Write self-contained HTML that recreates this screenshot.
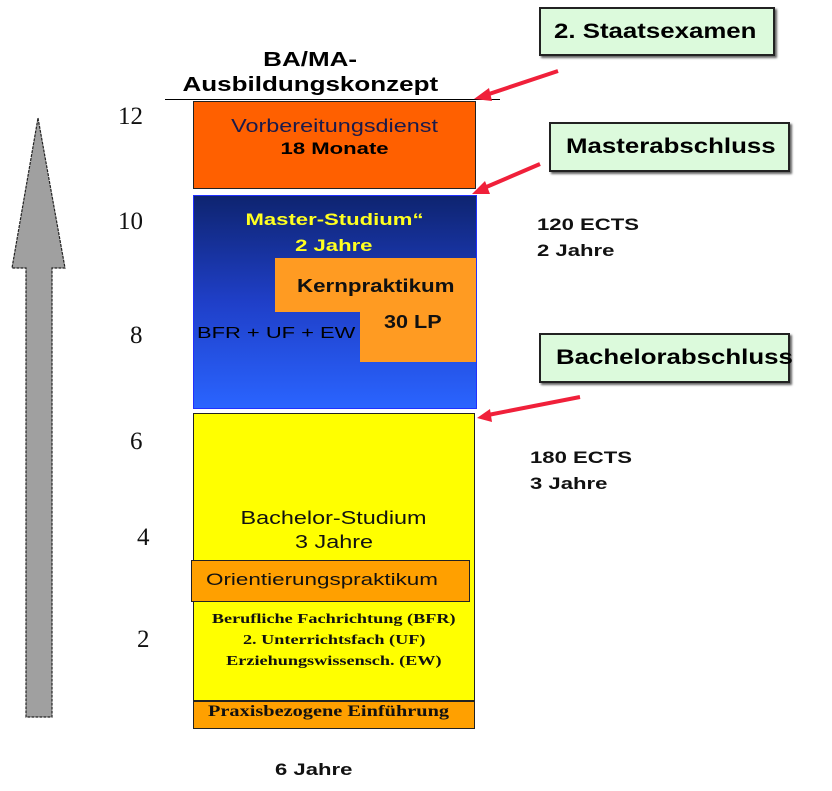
<!DOCTYPE html>
<html><head><meta charset="utf-8"><style>
body{margin:0;width:832px;height:791px;background:#fff;position:relative;overflow:hidden;font-family:"Liberation Sans",Arial,sans-serif}
.a{position:absolute}
.b{font-weight:bold}
.c{text-align:center}
.s{display:inline-block;transform:scaleX(1.3);transform-origin:left center;white-space:nowrap}
.c .s,.sc{transform-origin:center center}
.num{font-family:"Liberation Serif",serif;font-size:25px;color:#111}
.g{background:#dcfadc;border:2px solid #222;box-shadow:2px 2px 2px #666;font-weight:bold;font-size:21px;color:#000}
.ser{font-family:"Liberation Serif",serif;font-weight:bold}
</style></head><body>
<div class="a b c" style="left:160px;top:48px;width:300px;font-size:20px;line-height:25px"><span class="s">BA/MA-</span><br><span class="s">Ausbildungskonzept</span></div>
<div class="a" style="left:165px;top:99px;width:335px;height:1px;background:#000"></div>

<svg class="a" style="left:0;top:0" width="832" height="791">
<polygon points="38,118 65,268 52,268 52,717 26,717 26,268 12,268" fill="#a0a0a0" stroke="#222" stroke-width="1.2" stroke-dasharray="3,1"/>
<g stroke="#f0203a" stroke-width="4" fill="#f0203a">
<line x1="558" y1="71" x2="486" y2="95"/><polygon points="474,99 489,88 492,101" stroke="none"/>
<line x1="540" y1="164" x2="484" y2="188"/><polygon points="472,194 485,181 490,194" stroke="none"/>
<line x1="580" y1="397" x2="488" y2="415"/><polygon points="477,418 490,409 492,422" stroke="none"/>
</g>
</svg>

<div class="a num" style="left:118px;top:103px">12</div>
<div class="a num" style="left:118px;top:208px">10</div>
<div class="a num" style="left:130px;top:322px">8</div>
<div class="a num" style="left:130px;top:428px">6</div>
<div class="a num" style="left:137px;top:524px">4</div>
<div class="a num" style="left:137px;top:626px">2</div>

<div class="a c" style="left:193px;top:101px;width:281px;height:86px;background:#ff6000;border:1.5px solid #222">
<div style="margin-top:14px;font-size:18px;color:#1a1a4a"><span class="s">Vorbereitungsdienst</span></div>
<div class="b" style="font-size:17px;margin-top:2px"><span class="s">18 Monate</span></div></div>

<div class="a" style="left:193px;top:195px;width:282px;height:212px;background:linear-gradient(#0e2470 0%,#1f3fc8 50%,#2a64ff 100%);border:1px solid #2030ff"></div>
<div class="a b c" style="left:193px;top:207px;width:282px;font-size:17px;line-height:26px;color:#ffff20"><span class="s">Master-Studium“</span><br><span class="s">2 Jahre</span></div>
<div class="a" style="left:275px;top:258px;width:201px;height:54px;background:#ff9b22"></div>
<div class="a" style="left:360px;top:312px;width:116px;height:50px;background:#ff9b22"></div>
<div class="a b" style="left:297px;top:276px;font-size:18px;color:#111"><span class="s" style="transform:scaleX(1.24)">Kernpraktikum</span></div>
<div class="a b" style="left:384px;top:312px;font-size:18px;color:#111"><span class="s" style="transform:scaleX(1.2)">30 LP</span></div>
<div class="a" style="left:197px;top:325px;font-size:16px;color:#000"><span class="s" style="transform:scaleX(1.37)">BFR + UF + EW</span></div>

<div class="a" style="left:193px;top:413px;width:282px;height:288px;background:#ffff00;border:1.5px solid #222;box-sizing:border-box"></div>
<div class="a c" style="left:193px;top:506px;width:282px;font-size:18px;line-height:24px;color:#111"><span class="s">Bachelor-Studium</span><br><span class="s">3 Jahre</span></div>
<div class="a" style="left:191px;top:560px;width:279px;height:42px;background:#ffa000;border:1.5px solid #222;box-sizing:border-box"></div>
<div class="a" style="left:206px;top:570px;font-size:17px;color:#111"><span class="s" style="transform:scaleX(1.32)">Orientierungspraktikum</span></div>
<div class="a c ser" style="left:193px;top:609px;width:282px;font-size:14px;line-height:21px;color:#111"><span class="s">Berufliche Fachrichtung (BFR)</span><br><span class="s">2. Unterrichtsfach (UF)</span><br><span class="s">Erziehungswissensch. (EW)</span></div>
<div class="a" style="left:193px;top:701px;width:282px;height:28px;background:#ffa000;border:1.5px solid #222;box-sizing:border-box"></div>
<div class="a ser" style="left:208px;top:703px;font-size:16px;color:#111"><span class="s" style="transform:scaleX(1.27)">Praxisbezogene Einführung</span></div>

<div class="a g" style="left:539px;top:7px;width:236px;height:49px;box-sizing:border-box;padding:11px 0 0 13px"><span class="s" style="transform:scaleX(1.23)">2. Staatsexamen</span></div>
<div class="a g" style="left:549px;top:122px;width:241px;height:50px;box-sizing:border-box;padding:11px 0 0 15px"><span class="s" style="transform:scaleX(1.23)">Masterabschluss</span></div>
<div class="a g" style="left:539px;top:333px;width:251px;height:50px;box-sizing:border-box;padding:11px 0 0 15px"><span class="s" style="transform:scaleX(1.23)">Bachelorabschluss</span></div>

<div class="a b" style="left:537px;top:212px;font-size:17px;line-height:26px;color:#111"><span class="s">120 ECTS</span><br><span class="s">2 Jahre</span></div>
<div class="a b" style="left:530px;top:445px;font-size:17px;line-height:26px;color:#111"><span class="s">180 ECTS</span><br><span class="s">3 Jahre</span></div>
<div class="a b" style="left:275px;top:760px;font-size:17px;color:#111"><span class="s">6 Jahre</span></div>
</body></html>
